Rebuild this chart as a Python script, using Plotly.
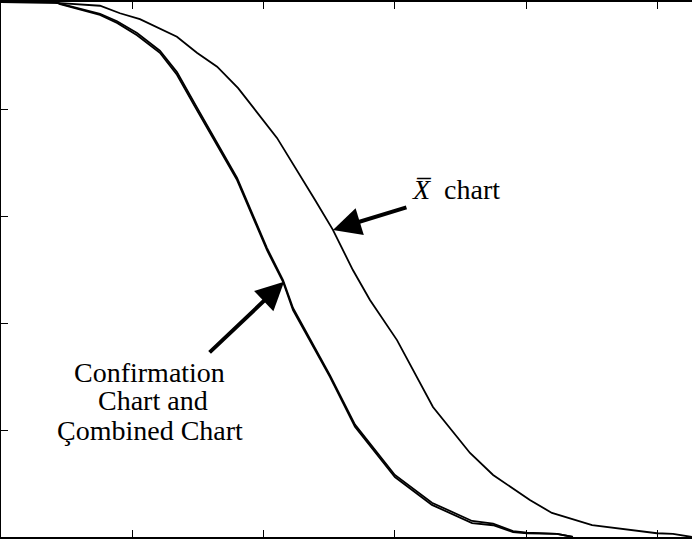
import plotly.graph_objects as go

# x: shift in process mean (ticks every 0.5), y: probability (0..1)
xbar_x = [0.0, 0.225, 0.377, 0.453, 0.529, 0.670, 0.746, 0.823, 0.903, 1.051, 1.196, 1.264,
          1.340, 1.405, 1.508, 1.645, 1.786, 1.874, 2.014, 2.098, 2.251, 2.498, 2.559, 2.631]
xbar_y = [1.0, 0.998, 0.993, 0.979, 0.968, 0.935, 0.905, 0.879, 0.839, 0.746, 0.630, 0.574,
          0.499, 0.443, 0.368, 0.243, 0.157, 0.116, 0.069, 0.045, 0.022, 0.007, 0.006, 0.0]

low_x = [0.0, 0.206, 0.225, 0.377, 0.442, 0.518, 0.605, 0.670, 0.746, 0.899, 1.013, 1.074,
         1.112, 1.253, 1.348, 1.417, 1.500, 1.641, 1.794, 1.874, 1.950, 2.003, 2.117, 2.178]
combined_y = [1.0, 1.0, 0.996, 0.976, 0.961, 0.938, 0.905, 0.864, 0.798, 0.667, 0.536, 0.477,
              0.424, 0.299, 0.206, 0.163, 0.112, 0.060, 0.026, 0.022, 0.009, 0.007, 0.006, 0.0]
confirm_y = [1.0, 1.0, 0.997, 0.978, 0.964, 0.942, 0.909, 0.869, 0.803, 0.671, 0.540, 0.480,
             0.428, 0.302, 0.210, 0.167, 0.116, 0.064, 0.030, 0.025, 0.011, 0.008, 0.006, 0.0]

x_ticks = [0.5, 1.0, 1.5, 2.0, 2.5]
y_ticks = [0.2, 0.4, 0.6, 0.8]

serif = dict(family="Liberation Serif, Times New Roman, serif", size=28, color="black")

fig = go.Figure()
for xs, ys in [(xbar_x, xbar_y), (low_x, combined_y), (low_x, confirm_y)]:
    fig.add_trace(go.Scatter(x=xs, y=ys, mode="lines",
                             line=dict(color="black", width=1.8), showlegend=False))

# labels
fig.add_annotation(x=1.733, y=0.649, text="<i>X\u0305</i>  chart", showarrow=False, font=serif)
fig.add_annotation(x=0.566, y=0.307, text="Confirmation", showarrow=False, font=serif)
fig.add_annotation(x=0.577, y=0.256, text="Chart and", showarrow=False, font=serif)
fig.add_annotation(x=0.567, y=0.200, text="Çombined Chart", showarrow=False, font=serif)

# arrows
arrow = dict(text="", showarrow=True, arrowhead=2, arrowwidth=4, arrowsize=1.4, arrowcolor="black")
fig.add_annotation(x=1.264, y=0.574, ax=75, ay=-23, **arrow)
fig.add_annotation(x=1.078, y=0.477, ax=-76, ay=72, **arrow)

fig.update_xaxes(range=[0, 2.6314], tickvals=x_ticks, showticklabels=False, ticks="inside",
                 ticklen=7, tickwidth=1, tickcolor="black", showline=True, linewidth=2.5,
                 linecolor="black", mirror="ticks", showgrid=False, zeroline=False)
fig.update_yaxes(range=[0, 1], tickvals=y_ticks, showticklabels=False, ticks="inside",
                 ticklen=7, tickwidth=1, tickcolor="black", showline=True, linewidth=2.5,
                 linecolor="black", mirror=False, showgrid=False, zeroline=False)
fig.update_layout(width=692, height=539, margin=dict(l=1, r=0, t=2, b=2),
                  plot_bgcolor="white", paper_bgcolor="white")

fig.write_html("out.html", config={"displayModeBar": False},
               post_script="document.body.style.margin='0';")
